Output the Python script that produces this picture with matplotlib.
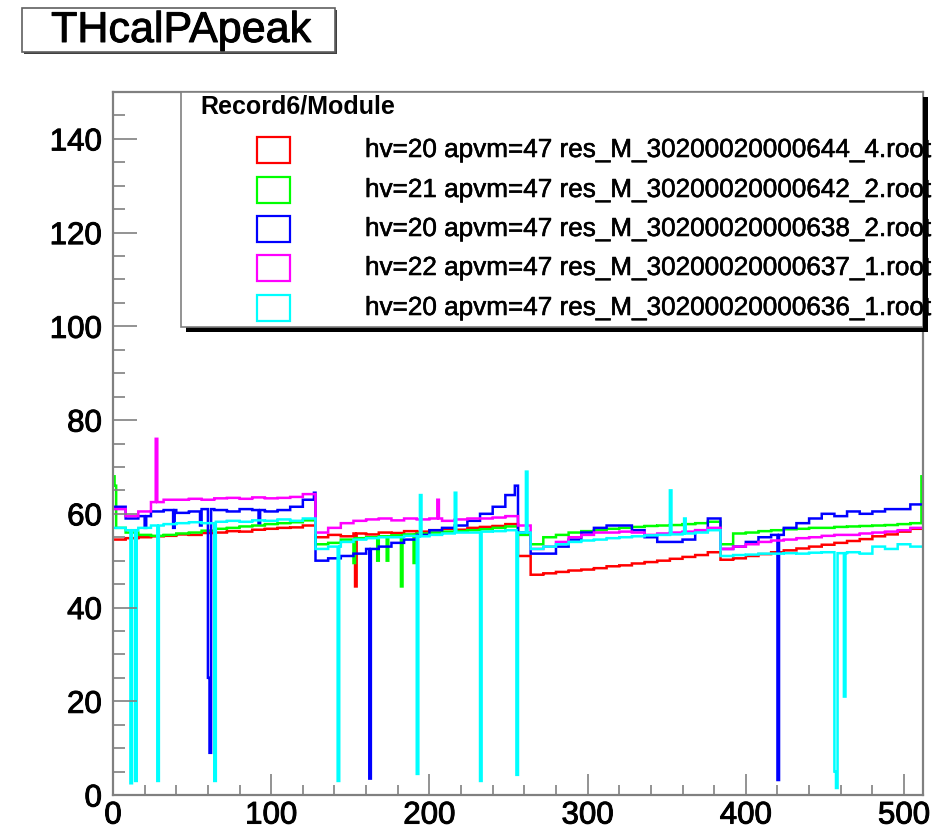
import numpy as np
import matplotlib
matplotlib.use("Agg")
import matplotlib.pyplot as plt
from matplotlib.patches import Rectangle
from matplotlib.ticker import MultipleLocator
import matplotlib.patheffects as pe

plt.rcParams['font.family'] = ['Liberation Sans', 'DejaVu Sans']

# ---------------- data (per 8-channel block, 64 blocks = 512 channels) --------
n_channels = 512
block = 8

red_blocks = [54.5, 54.8, 55.0, 55.2, 55.3, 55.6, 55.5, 55.9, 56.0, 56.3, 56.2, 56.6, 56.8, 57.0, 57.1, 57.5,
              55.0, 55.5, 55.2, 55.8, 55.6, 56.0, 55.9, 56.3, 56.2, 56.5, 56.8, 56.6, 57.0, 57.2, 57.4, 57.8,
              51.0, 47.0, 47.3, 47.6, 47.9, 48.1, 48.4, 48.8, 49.0, 49.4, 49.7, 50.0, 50.4, 50.8, 51.2, 51.8,
              50.2, 50.5, 51.0, 51.4, 51.8, 52.2, 52.6, 53.0, 53.4, 53.8, 54.2, 54.6, 55.2, 55.6, 56.2, 56.8]
green_blocks = [57.0, 56.0, 55.5, 55.3, 55.5, 55.8, 56.0, 56.4, 56.8, 57.0, 57.3, 57.5, 57.8, 58.0, 58.2, 58.6,
                53.5, 53.8, 54.5, 54.8, 55.0, 55.2, 55.4, 55.6, 55.8, 56.0, 56.2, 56.3, 56.5, 56.7, 57.0, 57.3,
                55.5, 53.5, 55.0, 55.5, 56.0, 56.3, 56.5, 56.8, 57.0, 57.2, 57.4, 57.5, 57.6, 57.8, 58.0, 58.3,
                53.5, 55.8, 56.0, 56.3, 56.5, 56.7, 56.8, 57.0, 57.0, 57.2, 57.3, 57.4, 57.5, 57.6, 57.8, 58.0]
blue_blocks = [61.5, 59.0, 59.5, 60.5, 60.8, 60.2, 60.5, 61.0, 60.8, 60.5, 61.0, 60.8, 60.5, 60.8, 61.5, 63.0,
               50.0, 50.5, 51.0, 51.5, 52.5, 53.0, 53.8, 54.5, 55.5, 56.5, 57.0, 57.5, 58.5, 60.0, 61.5, 64.0,
               56.0, 51.5, 51.5, 53.0, 54.5, 56.0, 57.0, 57.5, 57.5, 56.5, 55.0, 54.0, 54.0, 54.5, 56.5, 59.0,
               52.5, 53.0, 54.0, 55.0, 55.5, 57.0, 58.0, 59.0, 60.0, 59.5, 60.5, 60.0, 60.5, 61.0, 61.0, 62.0]
magenta_blocks = [61.0, 59.5, 60.5, 62.5, 63.0, 63.0, 63.2, 63.0, 63.3, 63.4, 63.2, 63.5, 63.3, 63.4, 63.6, 64.2,
                  56.0, 57.0, 58.0, 58.5, 58.8, 59.0, 58.6, 59.0, 58.8, 59.0, 58.5, 58.8, 59.0, 59.0, 59.2, 59.5,
                  57.5, 52.5, 53.0, 54.0, 55.0, 55.5, 56.0, 56.0, 56.2, 56.0, 55.5, 55.8, 56.0, 56.2, 56.5, 57.0,
                  52.5, 53.0, 53.5, 54.0, 54.3, 54.5, 54.8, 55.0, 55.3, 55.5, 55.5, 55.8, 56.0, 56.2, 56.5, 57.0]
cyan_blocks = [57.0, 56.5, 57.0, 57.5, 57.8, 58.0, 58.2, 58.0, 58.3, 58.5, 58.3, 58.6, 58.5, 58.8, 58.5, 59.0,
               52.5, 53.0, 54.0, 54.5, 54.8, 55.0, 55.0, 55.3, 55.2, 55.5, 55.8, 56.0, 56.0, 56.2, 56.3, 56.5,
               56.0, 52.5, 53.0, 53.5, 54.0, 54.3, 54.5, 54.8, 55.0, 55.2, 55.4, 55.5, 55.6, 55.8, 56.0, 56.5,
               51.0, 51.2, 51.3, 51.5, 51.5, 51.6, 51.5, 51.7, 51.8, 51.6, 51.8, 51.5, 53.0, 52.5, 53.5, 53.0]

# single-channel outliers: (channel, value)
red_spikes = [(153, 44.5)]
green_spikes = [(0, 68.0), (1, 66.0), (152, 49.5), (167, 50.0), (173, 50.0), (182, 44.5), (190, 49.5), (511, 68.0)]
blue_spikes = [(20, 57.0), (38, 57.0), (55, 57.5), (92, 58.0), (60, 25.0), (61, 9.0), (127, 64.5),
               (162, 3.5), (254, 66.0), (255, 66.0), (420, 3.2)]
magenta_spikes = [(27, 76.0), (205, 63.0)]
cyan_spikes = [(11, 2.5), (14, 3.0), (28, 3.0), (64, 3.0), (142, 3.0), (192, 4.5), (194, 64.0),
               (216, 64.5), (232, 3.0), (255, 4.3), (261, 69.0), (352, 65.0), (361, 59.0),
               (456, 5.0), (457, 1.5), (462, 21.0)]

labels = ["hv=20 apvm=47 res_M_30200020000644_4.root",
          "hv=21 apvm=47 res_M_30200020000642_2.root",
          "hv=20 apvm=47 res_M_30200020000638_2.root",
          "hv=22 apvm=47 res_M_30200020000637_1.root",
          "hv=20 apvm=47 res_M_30200020000636_1.root"]
colors = ["#ff0000", "#00ff00", "#0000ff", "#ff00ff", "#00ffff"]
series_blocks = [red_blocks, green_blocks, blue_blocks, magenta_blocks, cyan_blocks]
series_spikes = [red_spikes, green_spikes, blue_spikes, magenta_spikes, cyan_spikes]


def build(blocks, spikes):
    v = np.repeat(np.asarray(blocks, dtype=float), block)
    for ch, val in spikes:
        v[ch] = val
    return v


# ---------------- figure ----------------
W, H = 949, 831
fig = plt.figure(figsize=(W / 100, H / 100), dpi=100)
fig.patch.set_facecolor("white")

heavy = [pe.withStroke(linewidth=0.7, foreground="black")]


def fx(x):
    return x / W


def fy(y):
    return 1 - y / H


ax_l, ax_r, ax_t, ax_b = 113, 923, 92, 795
ax = fig.add_axes([fx(ax_l), fy(ax_b), (ax_r - ax_l) / W, (ax_b - ax_t) / H])

edges = np.arange(0, n_channels + 1)
for blocks, spikes, c in zip(series_blocks, series_spikes, colors):
    ax.stairs(build(blocks, spikes), edges, color=c, lw=1.8, baseline=None)

ax.set_xlim(0, 512)
ax.set_ylim(0, 150)
ax.xaxis.set_major_locator(MultipleLocator(100))
ax.xaxis.set_minor_locator(MultipleLocator(20))
ax.yaxis.set_major_locator(MultipleLocator(20))
ax.yaxis.set_minor_locator(MultipleLocator(5))

for s in ax.spines.values():
    s.set_color("#808080")
    s.set_linewidth(1.6)

ax.tick_params(axis='x', which='major', direction='in', length=15, width=1.2, color='#808080',
               labelsize=22.5, pad=4)
ax.tick_params(axis='x', which='minor', direction='in', length=7.5, width=1.2, color='#808080')
ax.tick_params(axis='y', which='major', direction='in', length=17, width=1.2, color='#808080',
               labelsize=22.5, pad=8)
ax.tick_params(axis='y', which='minor', direction='in', length=8.5, width=1.2, color='#808080')
for lab in ax.get_xticklabels() + ax.get_yticklabels():
    lab.set_path_effects(heavy)

# ---------------- title box ----------------
tx0, ty0, tx1, ty1 = 22, 8, 335, 52
fig.add_artist(Rectangle((fx(tx0 + 2), fy(ty1 + 2)), (tx1 - tx0) / W, (ty1 - ty0) / H,
                         transform=fig.transFigure, facecolor="#404040", edgecolor="none"))
fig.add_artist(Rectangle((fx(tx0), fy(ty1)), (tx1 - tx0) / W, (ty1 - ty0) / H,
                         transform=fig.transFigure, facecolor="white", edgecolor="#606060", lw=1.2))
fig.text(fx(181), fy((ty0 + ty1) / 2 + 1), "THcalPApeak", ha="center", va="center",
         fontsize=31, color="black", path_effects=heavy)

# ---------------- legend ----------------
lx0, ly0, lx1, ly1 = 181, 92, 923, 327
fig.add_artist(Rectangle((fx(lx0 + 5), fy(ly1 + 5)), (lx1 - lx0) / W, (ly1 - ly0) / H,
                         transform=fig.transFigure, facecolor="black", edgecolor="none", zorder=5))
fig.add_artist(Rectangle((fx(lx0), fy(ly1)), (lx1 - lx0) / W, (ly1 - ly0) / H,
                         transform=fig.transFigure, facecolor="white", edgecolor="#808080", lw=1.2, zorder=6))
fig.text(fx(200), fy(107), "Record6/Module", ha="left", va="center", fontsize=18,
         fontweight="bold", color="black", zorder=7)

row_y = [150, 190, 229, 268, 308]
for yc, c, lab in zip(row_y, colors, labels):
    fig.add_artist(Rectangle((fx(257), fy(yc + 13)), 33 / W, 26 / H, transform=fig.transFigure,
                             facecolor="white", edgecolor=c, lw=1.6, zorder=7))
    fig.text(fx(365), fy(yc), lab, ha="left", va="center", fontsize=18.8, color="black", zorder=7,
             path_effects=[pe.withStroke(linewidth=0.4, foreground="black")])

# right border of legend drawn over the text end
fig.add_artist(Rectangle((fx(lx1), fy(ly1 + 5)), 5 / W, (ly1 - ly0) / H,
                         transform=fig.transFigure, facecolor="black", edgecolor="none", zorder=8))

fig.savefig("out.png", dpi=100)
